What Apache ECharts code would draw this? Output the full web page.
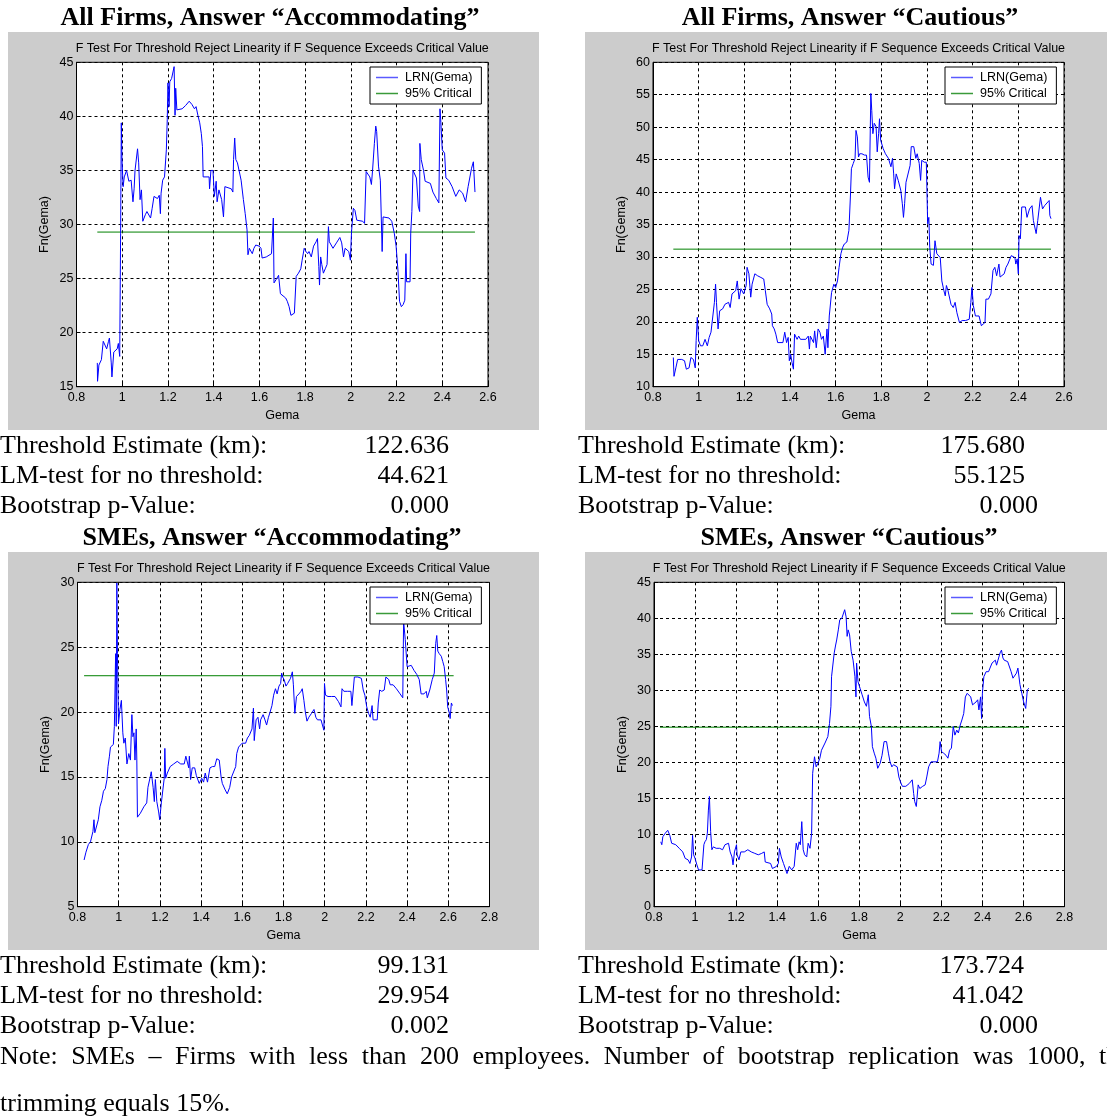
<!DOCTYPE html>
<html><head><meta charset="utf-8">
<script src="https://cdn.jsdelivr.net/npm/echarts@6/dist/echarts.min.js"></script>
<style>html,body{margin:0;padding:0;background:#fff;overflow:hidden}#c{width:1107px;height:1117px;}</style>
</head><body><div id="c"></div><script>
// ---------- DATA ----------
const panelTitles = ['All Firms, Answer \u201cAccommodating\u201d','All Firms, Answer \u201cCautious\u201d','SMEs, Answer \u201cAccommodating\u201d','SMEs, Answer \u201cCautious\u201d'];
const plotSubtitle = 'F Test For Threshold Reject Linearity if F Sequence Exceeds Critical Value';
const xAxisName = 'Gema';
const yAxisName = 'Fn(Gema)';
const legendNames = ['LRN(Gema)','95% Critical'];
const xMaxes = [2.6, 2.6, 2.8, 2.8];
const yRanges = [[15,45],[10,60],[5,30],[0,45]];

const lrnAllAccommodating = [[0.891,17.2],[0.892,15.5],[0.898,17.0],[0.909,17.5],[0.917,19.2],[0.924,19.3],[0.932,18.5],[0.940,19.2],[0.944,19.5],[0.952,17.2],[0.955,15.9],[0.963,18.2],[0.978,18.5],[0.983,19.0],[0.989,17.8],[0.993,29.2],[0.996,39.4],[0.999,36.0],[1.004,33.5],[1.009,34.4],[1.019,35.0],[1.029,34.0],[1.039,34.1],[1.047,32.1],[1.052,33.3],[1.056,35.0],[1.062,34.9],[1.067,37.0],[1.072,35.7],[1.078,32.3],[1.084,33.2],[1.090,30.3],[1.101,30.9],[1.108,31.2],[1.124,30.6],[1.131,31.5],[1.139,32.6],[1.154,32.4],[1.162,32.7],[1.167,31.0],[1.170,32.9],[1.177,34.1],[1.185,34.4],[1.193,36.9],[1.197,39.7],[1.200,43.1],[1.205,40.9],[1.208,43.2],[1.216,43.5],[1.220,43.4],[1.227,44.6],[1.231,40.1],[1.234,42.6],[1.239,40.6],[1.247,40.7],[1.262,40.7],[1.277,41.0],[1.293,41.4],[1.305,41.1],[1.316,40.7],[1.323,40.9],[1.331,40.1],[1.339,39.4],[1.346,38.4],[1.351,37.2],[1.354,34.4],[1.380,34.4],[1.382,33.3],[1.388,35.0],[1.397,35.0],[1.403,32.6],[1.411,34.0],[1.415,32.1],[1.423,33.2],[1.435,32.3],[1.443,30.7],[1.449,33.5],[1.477,33.3],[1.484,33.0],[1.487,36.0],[1.492,38.0],[1.497,36.0],[1.504,35.7],[1.520,34.1],[1.530,32.3],[1.538,31.0],[1.546,29.5],[1.550,27.2],[1.556,27.8],[1.569,27.3],[1.576,27.8],[1.584,28.1],[1.599,28.0],[1.607,27.8],[1.612,26.9],[1.630,27.0],[1.653,27.3],[1.661,30.6],[1.664,24.6],[1.673,24.9],[1.684,25.3],[1.692,23.6],[1.699,23.5],[1.715,23.2],[1.722,22.9],[1.730,22.4],[1.738,21.6],[1.753,21.8],[1.761,25.2],[1.771,25.5],[1.781,25.9],[1.787,26.7],[1.796,27.8],[1.804,27.5],[1.811,27.3],[1.817,27.5],[1.827,27.0],[1.837,28.0],[1.848,28.4],[1.854,28.7],[1.860,26.1],[1.863,24.4],[1.868,27.0],[1.873,26.3],[1.880,25.5],[1.888,25.9],[1.896,26.3],[1.902,29.8],[1.906,28.4],[1.922,27.8],[1.937,28.3],[1.952,28.8],[1.960,28.3],[1.968,27.0],[1.975,27.8],[1.991,27.5],[1.998,26.7],[2.003,29.3],[2.011,31.5],[2.018,31.3],[2.026,30.4],[2.052,30.3],[2.060,30.1],[2.067,34.9],[2.083,34.4],[2.090,33.7],[2.095,35.0],[2.103,37.5],[2.109,39.1],[2.113,38.6],[2.121,35.4],[2.129,34.1],[2.137,27.5],[2.141,30.7],[2.167,30.6],[2.179,30.3],[2.190,29.2],[2.198,28.0],[2.206,25.8],[2.213,22.9],[2.221,22.4],[2.229,22.6],[2.236,23.0],[2.241,27.3],[2.244,24.7],[2.259,24.7],[2.262,29.2],[2.267,31.2],[2.272,35.0],[2.287,34.3],[2.295,31.7],[2.301,31.2],[2.302,37.5],[2.308,36.0],[2.318,35.0],[2.325,34.0],[2.348,33.8],[2.359,33.0],[2.374,32.4],[2.385,32.0],[2.390,40.7],[2.394,39.4],[2.400,36.9],[2.410,36.6],[2.416,34.3],[2.428,34.1],[2.443,33.5],[2.459,32.6],[2.474,33.2],[2.482,33.3],[2.489,32.9],[2.502,32.1],[2.513,33.5],[2.528,35.2],[2.536,35.8],[2.543,33.0]];

const lrnAllCautious = [[0.889,14.5],[0.892,11.6],[0.900,12.9],[0.908,14.2],[0.915,14.5],[0.926,14.2],[0.938,14.0],[0.946,12.7],[0.958,12.9],[0.966,14.5],[0.977,14.2],[0.985,12.9],[0.989,17.1],[0.994,20.7],[1.000,17.1],[1.008,16.3],[1.018,16.3],[1.028,17.3],[1.038,16.3],[1.046,17.6],[1.054,18.4],[1.062,18.4],[1.069,23.0],[1.074,25.8],[1.078,23.0],[1.085,18.9],[1.092,21.7],[1.105,22.0],[1.115,22.7],[1.131,23.0],[1.138,22.2],[1.146,24.3],[1.162,24.8],[1.169,26.3],[1.177,23.5],[1.185,25.1],[1.197,24.3],[1.208,25.6],[1.212,28.4],[1.220,27.4],[1.228,23.8],[1.234,25.8],[1.246,27.4],[1.258,27.1],[1.269,26.9],[1.285,26.6],[1.292,24.8],[1.300,22.7],[1.311,22.0],[1.320,21.2],[1.323,19.4],[1.331,18.9],[1.338,18.1],[1.346,16.8],[1.354,16.8],[1.369,16.8],[1.377,18.4],[1.385,16.8],[1.392,17.6],[1.397,14.0],[1.403,15.0],[1.409,13.7],[1.415,12.7],[1.420,18.1],[1.431,17.3],[1.438,17.8],[1.446,17.3],[1.454,17.6],[1.469,17.3],[1.480,17.8],[1.485,15.8],[1.489,17.8],[1.497,18.1],[1.503,16.8],[1.508,18.6],[1.515,16.0],[1.523,18.9],[1.531,18.4],[1.538,17.3],[1.546,17.8],[1.554,15.0],[1.562,18.9],[1.566,16.0],[1.572,20.9],[1.582,24.5],[1.592,25.8],[1.600,25.3],[1.608,26.3],[1.615,28.4],[1.623,30.5],[1.631,31.5],[1.638,32.0],[1.649,32.3],[1.658,34.1],[1.665,39.7],[1.669,43.6],[1.677,44.4],[1.685,45.2],[1.689,49.5],[1.695,48.5],[1.700,45.4],[1.705,45.9],[1.715,45.9],[1.726,45.7],[1.735,45.7],[1.742,42.3],[1.748,41.5],[1.754,55.2],[1.758,52.6],[1.763,49.0],[1.769,50.6],[1.777,50.1],[1.782,46.2],[1.788,49.0],[1.792,51.3],[1.797,48.0],[1.808,46.7],[1.818,45.9],[1.831,45.2],[1.842,43.9],[1.849,45.2],[1.854,42.8],[1.858,40.5],[1.865,42.8],[1.874,41.8],[1.885,40.3],[1.892,38.2],[1.897,36.1],[1.902,38.2],[1.908,41.5],[1.915,41.3],[1.926,44.1],[1.931,47.0],[1.942,47.0],[1.951,45.2],[1.957,45.9],[1.966,44.4],[1.972,41.8],[1.977,44.9],[1.988,44.6],[1.997,44.6],[2.003,35.1],[2.008,36.1],[2.012,31.5],[2.018,28.9],[2.028,28.7],[2.035,32.5],[2.043,30.5],[2.058,29.9],[2.065,26.3],[2.074,24.8],[2.080,24.0],[2.085,25.6],[2.092,24.8],[2.105,22.7],[2.115,22.2],[2.123,23.0],[2.131,21.4],[2.142,19.9],[2.154,20.2],[2.169,20.2],[2.185,20.4],[2.192,23.0],[2.197,25.3],[2.203,22.5],[2.212,20.9],[2.228,20.9],[2.238,19.4],[2.254,19.9],[2.258,23.5],[2.269,23.5],[2.280,24.3],[2.289,27.9],[2.297,28.4],[2.305,27.1],[2.315,28.9],[2.320,26.9],[2.338,27.4],[2.346,28.4],[2.354,28.9],[2.362,28.9],[2.369,30.2],[2.385,29.9],[2.389,28.9],[2.395,29.7],[2.400,27.4],[2.403,33.3],[2.409,32.8],[2.415,37.7],[2.431,37.7],[2.438,36.1],[2.449,37.4],[2.460,37.9],[2.466,35.6],[2.478,33.6],[2.485,35.6],[2.492,35.9],[2.497,39.2],[2.506,37.4],[2.515,37.9],[2.523,38.2],[2.535,38.7],[2.538,36.4],[2.543,35.9]];

const lrnSmeAccommodating = [[0.832,8.6],[0.841,9.2],[0.853,9.8],[0.863,10.0],[0.870,10.1],[0.875,10.8],[0.880,11.7],[0.884,10.7],[0.892,10.8],[0.901,11.7],[0.909,12.7],[0.918,13.2],[0.926,13.9],[0.935,14.1],[0.943,14.8],[0.948,15.8],[0.955,16.6],[0.960,17.3],[0.969,17.3],[0.974,17.5],[0.979,18.9],[0.985,24.5],[0.988,18.9],[0.991,29.95],[0.994,24.5],[0.999,19.1],[1.006,20.2],[1.013,20.9],[1.020,18.4],[1.025,17.6],[1.032,18.0],[1.040,16.0],[1.049,16.8],[1.057,16.3],[1.064,19.8],[1.069,18.1],[1.074,18.4],[1.079,16.3],[1.085,18.7],[1.088,16.3],[1.091,11.9],[1.105,12.2],[1.122,12.7],[1.136,13.0],[1.142,14.2],[1.153,15.0],[1.158,15.4],[1.167,14.2],[1.173,13.1],[1.178,14.8],[1.185,13.1],[1.194,12.3],[1.199,11.7],[1.207,13.0],[1.216,13.0],[1.221,14.9],[1.224,17.2],[1.228,14.9],[1.236,15.3],[1.250,15.8],[1.267,16.0],[1.284,16.2],[1.301,16.0],[1.318,16.0],[1.326,16.6],[1.331,16.7],[1.340,15.7],[1.343,16.6],[1.349,14.8],[1.357,15.7],[1.369,15.7],[1.377,15.1],[1.391,14.5],[1.403,14.9],[1.412,14.6],[1.420,15.3],[1.431,14.6],[1.443,15.7],[1.455,15.8],[1.466,15.8],[1.476,16.4],[1.488,16.3],[1.497,15.0],[1.503,14.5],[1.517,14.0],[1.527,13.7],[1.539,14.2],[1.548,15.0],[1.556,15.0],[1.568,15.8],[1.573,16.8],[1.582,17.3],[1.599,17.6],[1.608,17.7],[1.616,17.6],[1.625,18.0],[1.634,18.2],[1.647,18.7],[1.654,20.3],[1.658,17.8],[1.667,19.4],[1.676,19.6],[1.684,18.7],[1.689,19.4],[1.701,19.8],[1.710,19.4],[1.718,19.0],[1.727,19.6],[1.735,20.0],[1.744,20.5],[1.752,21.3],[1.761,21.8],[1.769,21.4],[1.778,22.0],[1.786,22.2],[1.791,23.0],[1.796,22.7],[1.803,22.5],[1.812,22.0],[1.820,22.2],[1.834,22.6],[1.843,23.1],[1.848,22.1],[1.855,19.9],[1.863,21.2],[1.875,21.4],[1.885,21.6],[1.891,21.8],[1.899,20.9],[1.906,20.0],[1.914,19.3],[1.923,19.6],[1.936,19.9],[1.948,20.2],[1.957,19.6],[1.965,19.4],[1.982,19.4],[1.991,19.3],[1.996,18.6],[1.999,22.2],[2.004,21.3],[2.016,21.2],[2.033,21.2],[2.050,21.2],[2.067,20.8],[2.079,20.4],[2.084,21.8],[2.093,21.6],[2.110,21.6],[2.127,21.6],[2.132,20.5],[2.144,22.7],[2.161,22.7],[2.178,22.6],[2.187,21.7],[2.195,21.3],[2.204,20.4],[2.213,19.9],[2.221,19.6],[2.230,20.5],[2.235,19.4],[2.243,19.4],[2.255,19.4],[2.260,20.7],[2.267,21.7],[2.277,21.6],[2.289,21.7],[2.297,22.7],[2.311,22.5],[2.318,22.1],[2.332,22.1],[2.348,21.8],[2.366,21.4],[2.379,21.1],[2.383,27.0],[2.391,25.6],[2.400,23.5],[2.409,23.6],[2.420,23.6],[2.434,23.2],[2.447,22.9],[2.459,22.5],[2.468,21.4],[2.482,21.4],[2.493,21.6],[2.498,21.1],[2.510,21.7],[2.522,22.5],[2.532,23.0],[2.539,25.3],[2.544,25.9],[2.549,24.7],[2.556,24.5],[2.566,24.3],[2.573,23.9],[2.580,23.5],[2.587,22.5],[2.592,21.7],[2.597,20.4],[2.604,20.0],[2.609,19.5],[2.615,20.7],[2.620,20.5]];

const lrnSmeCautious = [[0.833,9.0],[0.838,8.6],[0.843,9.7],[0.855,10.2],[0.867,10.6],[0.877,9.9],[0.886,8.8],[0.906,8.6],[0.923,8.1],[0.940,7.6],[0.952,6.7],[0.966,6.5],[0.975,6.0],[0.983,6.9],[0.988,9.9],[0.993,7.2],[1.000,6.7],[1.009,5.8],[1.017,5.1],[1.034,5.1],[1.043,8.6],[1.048,9.0],[1.055,9.3],[1.060,10.2],[1.065,13.4],[1.070,15.3],[1.076,10.4],[1.082,7.9],[1.089,8.3],[1.103,8.1],[1.120,8.1],[1.134,7.9],[1.146,8.6],[1.163,8.8],[1.171,7.6],[1.180,6.9],[1.185,5.8],[1.192,7.6],[1.202,8.6],[1.205,7.2],[1.214,6.5],[1.223,7.6],[1.240,7.6],[1.257,7.9],[1.274,7.6],[1.291,7.4],[1.308,7.2],[1.325,7.4],[1.337,7.6],[1.342,6.2],[1.351,6.0],[1.368,6.0],[1.377,5.3],[1.385,5.1],[1.397,5.6],[1.406,6.0],[1.411,8.1],[1.420,6.9],[1.431,6.0],[1.442,5.1],[1.448,4.6],[1.459,5.6],[1.471,5.1],[1.483,5.6],[1.493,8.8],[1.500,7.9],[1.507,9.0],[1.513,8.6],[1.520,11.8],[1.527,7.9],[1.534,7.2],[1.544,6.9],[1.551,8.8],[1.560,8.1],[1.568,10.2],[1.573,18.5],[1.582,20.8],[1.590,19.4],[1.599,19.9],[1.608,20.6],[1.616,21.7],[1.625,21.5],[1.633,22.7],[1.647,23.6],[1.655,25.4],[1.662,27.8],[1.665,31.9],[1.671,31.7],[1.678,35.2],[1.685,36.3],[1.690,37.0],[1.698,38.4],[1.705,39.8],[1.715,40.0],[1.722,40.0],[1.729,41.2],[1.736,40.2],[1.741,37.5],[1.746,38.4],[1.753,37.7],[1.761,35.4],[1.770,34.2],[1.779,31.9],[1.784,29.1],[1.787,33.8],[1.794,31.2],[1.804,30.3],[1.814,29.4],[1.825,28.4],[1.835,27.8],[1.844,29.4],[1.850,26.4],[1.859,25.0],[1.864,22.2],[1.873,21.3],[1.881,20.6],[1.890,19.2],[1.902,19.9],[1.911,21.0],[1.921,22.9],[1.933,22.9],[1.942,21.3],[1.950,20.1],[1.959,19.4],[1.967,19.7],[1.985,19.4],[1.993,18.0],[2.001,17.3],[2.010,16.7],[2.027,16.7],[2.044,17.1],[2.058,17.6],[2.065,15.7],[2.070,14.6],[2.078,13.9],[2.087,16.9],[2.095,16.4],[2.109,16.7],[2.121,16.9],[2.129,18.0],[2.138,19.4],[2.150,20.1],[2.164,20.1],[2.181,20.1],[2.189,21.3],[2.194,22.9],[2.201,21.5],[2.211,21.3],[2.223,21.0],[2.232,20.6],[2.240,21.7],[2.249,22.0],[2.258,25.0],[2.266,23.8],[2.275,24.5],[2.283,24.1],[2.292,25.2],[2.300,25.9],[2.309,26.8],[2.317,29.1],[2.326,29.6],[2.335,29.8],[2.343,29.1],[2.352,28.0],[2.360,28.2],[2.369,28.4],[2.377,28.7],[2.383,27.3],[2.391,29.1],[2.396,26.1],[2.400,29.6],[2.407,31.9],[2.418,32.6],[2.430,32.6],[2.437,33.1],[2.447,33.8],[2.455,34.0],[2.463,34.2],[2.469,33.5],[2.476,34.2],[2.486,35.2],[2.493,35.6],[2.500,34.5],[2.506,34.2],[2.523,34.0],[2.532,34.0],[2.540,32.6],[2.549,31.7],[2.557,31.7],[2.566,32.4],[2.573,33.1],[2.583,30.8],[2.592,29.6],[2.601,28.4],[2.611,27.5],[2.619,30.1],[2.627,30.3]];

const criticalValues = [29.3, 31.2, 22.8, 24.9];
const criticalStartGema = [0.891, 0.889, 0.832, 0.829];
const criticalEndGema = [2.543, 2.543, 2.626, 2.627];

const statLabels = ['Threshold Estimate (km):','LM-test for no threshold:','Bootstrap p-Value:'];
const statsAllAccommodating = ['122.636','44.621','0.000'];
const statsAllCautious = ['175.680','55.125','0.000'];
const statsSmeAccommodating = ['99.131','29.954','0.002'];
const statsSmeCautious = ['173.724','41.042','0.000'];
const noteLine1 = 'Note: SMEs \u2013 Firms with less than 200 employees. Number of bootstrap replication was 1000, the';
const noteLine2 = 'trimming equals 15%.';

// ---------- LAYOUT ----------
const SANS = '"Liberation Sans", Arial, Helvetica, sans-serif';
const SERIF = '"Liberation Serif", "Times New Roman", serif';
const BLUE = '#0000ff', GREEN = '#008000';
const lrnSeries = [lrnAllAccommodating, lrnAllCautious, lrnSmeAccommodating, lrnSmeCautious];
const layout = [
  {gray:[8,32,531,398],  grid:[76.5,62.3,411.5,324.4], title:[270,18],  legend:[370,67]},
  {gray:[585,32,531,398],grid:[653,62.3,411,324.4],    title:[850,18],  legend:[945,67]},
  {gray:[8,552,531,398], grid:[77.5,582.3,412,324.4],  title:[272,538], legend:[370,587]},
  {gray:[585,552,531,398],grid:[654,582.3,410.5,324.4],title:[849,538], legend:[945,587]}
];

const grids=[], xAxes=[], yAxes=[], series=[], legends=[], graphics=[];
layout.forEach((L,i)=>{
  graphics.push({type:'rect', z:-20, silent:true, shape:{x:L.gray[0],y:L.gray[1],width:L.gray[2],height:L.gray[3]}, style:{fill:'#cccccc'}});
  graphics.push({type:'text', silent:true, style:{text:panelTitles[i], x:L.title[0], y:L.title[1], font:'bold 26px '+SERIF, fill:'#000', align:'center', verticalAlign:'middle'}});
  const [gl,gt,gw,gh] = L.grid;
  graphics.push({type:'text', silent:true, style:{text:plotSubtitle, x:gl+gw/2, y:gt-14, font:'12.5px '+SANS, fill:'#000', align:'center', verticalAlign:'middle'}});
  grids.push({left:gl, top:gt, width:gw, height:gh, show:true, backgroundColor:'#ffffff', borderColor:'#000', borderWidth:1, containLabel:false});
  const axisCommon = {
    axisLine:{show:true, onZero:false, lineStyle:{color:'#000', width:1}},
    axisTick:{show:true, inside:true, length:4, lineStyle:{color:'#000'}},
    splitLine:{show:true, lineStyle:{color:'#000', width:1, type:[3,3]}},
    nameTextStyle:{fontFamily:SANS, fontSize:12.5, color:'#000'}
  };
  xAxes.push(Object.assign({type:'value', gridIndex:i, min:0.8, max:xMaxes[i], interval:0.2,
    name:xAxisName, nameLocation:'middle', nameGap:22,
    axisLabel:{fontFamily:SANS, fontSize:12.5, color:'#000', margin:4, formatter:v=>String(+v.toFixed(1))}}, axisCommon));
  yAxes.push(Object.assign({type:'value', gridIndex:i, min:yRanges[i][0], max:yRanges[i][1], interval:5,
    name:yAxisName, nameLocation:'middle', nameGap:25,
    axisLabel:{fontFamily:SANS, fontSize:12.5, color:'#000', margin:3}}, axisCommon));
  series.push({type:'line', name:legendNames[0], xAxisIndex:i, yAxisIndex:i, data:lrnSeries[i],
    showSymbol:false, symbol:'none', lineStyle:{color:BLUE, width:1}, itemStyle:{color:BLUE}, animation:false, z:3});
  series.push({type:'line', name:legendNames[1], xAxisIndex:i, yAxisIndex:i,
    data:[[criticalStartGema[i],criticalValues[i]],[criticalEndGema[i],criticalValues[i]]],
    showSymbol:false, symbol:'none', lineStyle:{color:GREEN, width:1}, itemStyle:{color:GREEN}, animation:false, z:2});
  legends.push({show:true, orient:'vertical', left:L.legend[0], top:L.legend[1],
    data:[
      {name:legendNames[0], icon:'rect', itemStyle:{color:'#5a5aff', borderWidth:0}},
      {name:legendNames[1], icon:'rect', itemStyle:{color:'#3a9a3a', borderWidth:0}}
    ],
    backgroundColor:'#ffffff', borderColor:'#000', borderWidth:1, borderRadius:0, padding:[4,9,4,6],
    itemGap:3, itemWidth:22, itemHeight:1.5, selectedMode:false,
    textStyle:{fontFamily:SANS, fontSize:12.5, color:'#000', padding:[0,0,0,2]}});
});

// stats text blocks
function addText(t,x,y,align){
  graphics.push({type:'text', silent:true, style:{text:t, x:x, y:y, font:'26px '+SERIF, fill:'#000', align:align||'left', verticalAlign:'middle'}});
}
const statBlocks = [
  {vals:statsAllAccommodating, lx:0,   vx:[449,449,449],   ys:[446,476.5,506]},
  {vals:statsAllCautious,      lx:578, vx:[1025,1025,1038],ys:[446,476.5,506]},
  {vals:statsSmeAccommodating, lx:0,   vx:[449,449,449],   ys:[966,996,1026]},
  {vals:statsSmeCautious,      lx:578, vx:[1024,1024,1038],ys:[966,996,1026]}
];
statBlocks.forEach(b=>{
  statLabels.forEach((lab,k)=>{ addText(lab,b.lx,b.ys[k],'left'); addText(b.vals[k],b.vx[k],b.ys[k],'right'); });
});
// justified note line
(function(){
  const words = noteLine1.split(' ');
  const c = document.createElement('canvas').getContext('2d');
  c.font = '26px ' + SERIF;
  const widths = words.map(w=>c.measureText(w).width);
  const lastStart = 1099;
  const sumW = widths.slice(0,-1).reduce((a,b)=>a+b,0);
  const gap = (lastStart - sumW)/(words.length-1);
  let x = 0;
  words.forEach((w,k)=>{ addText(w,x,1057,'left'); x += widths[k]+gap; });
  addText(noteLine2,0,1104,'left');
})();

const chart = echarts.init(document.getElementById('c'), null, {renderer:'canvas', width:1107, height:1117});
chart.setOption({
  animation:false,
  backgroundColor:'#ffffff',
  grid:grids, xAxis:xAxes, yAxis:yAxes, series:series, legend:legends,
  graphic:{elements:graphics}
});
</script></body></html>
